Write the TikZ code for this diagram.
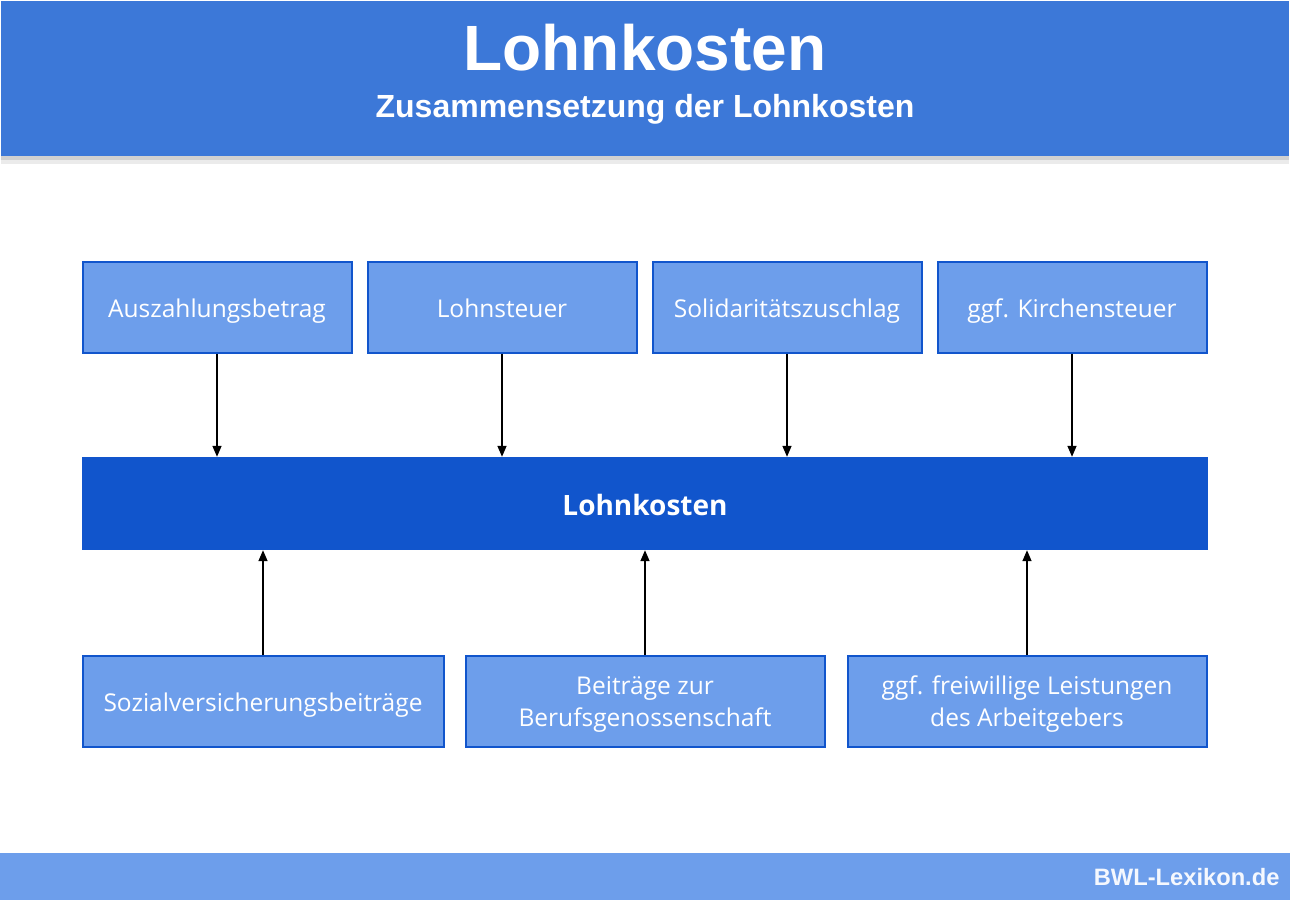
\documentclass[tikz,border=0pt]{standalone}
\usepackage{fontspec}
\setmainfont{Liberation Sans}
\newfontfamily\boxfont{Open Sans}
\usetikzlibrary{arrows.meta}
\definecolor{hdr}{HTML}{3C78D8}
\definecolor{lite}{HTML}{6D9EEB}
\definecolor{dark}{HTML}{1155CC}
\newcommand\twolines[2]{\raisebox{-3pt}[\height][\depth]{\renewcommand\arraystretch{1.03}\begin{tabular}{@{}c@{}}#1\\#2\end{tabular}}}
\begin{document}
\begin{tikzpicture}[x=1pt,y=-1pt,
  item/.style={draw=dark,line width=2pt,fill=lite,text=white,inner sep=0pt,
    font=\boxfont\fontsize{24.5}{31}\selectfont},
  oneline/.style={text height=24pt,text depth=4pt},
  mainbox/.style={fill=dark,text=white,inner sep=0pt,text height=30pt,text depth=6pt,
    font=\boxfont\bfseries\fontsize{28}{32}\selectfont},
  conn/.style={draw=black,line width=1.5pt,-{Triangle[length=11pt,width=9pt]}}]
\useasboundingbox (0,0) rectangle (1290,900);
\fill[white] (0,0) rectangle (1290,900);
% header shadow
\fill[black!18] (1,156) rectangle (1289,160);
\fill[black!8] (1,160) rectangle (1289,164);
\fill[hdr] (1,1) rectangle (1289,156);
\node[text=white,font=\bfseries\fontsize{64}{70}\selectfont] (title) at (645,48) {Lohnkosten};
\node[text=white,font=\bfseries\fontsize{32}{36}\selectfont] (sub) at (645,109) {Zusammensetzung der Lohnkosten};
% footer
\fill[lite] (0,853) rectangle (1290,900);
\node[text=white!93!lite,font=\bfseries\fontsize{23.7}{26}\selectfont,anchor=east] (foot) at (1283,877) {BWL-Lexikon.de};
% top row
\node[item,oneline,minimum width=269pt,minimum height=91pt] (a1) at (217,307) {Auszahlungsbetrag};
\node[item,oneline,minimum width=269pt,minimum height=91pt] (a2) at (502,307) {Lohnsteuer};
\node[item,oneline,minimum width=269pt,minimum height=91pt] (a3) at (787,307) {Solidaritätszuschlag};
\node[item,oneline,minimum width=269pt,minimum height=91pt] (a4) at (1072,307) {ggf. Kirchensteuer};
% main
\node[mainbox,minimum width=1126pt,minimum height=93pt] (main) at (645,503.5) {Lohnkosten};
% bottom row
\node[item,oneline,minimum width=361pt,minimum height=91pt] (b1) at (263,701) {Sozialversicherungsbeiträge};
\node[item,minimum width=359pt,minimum height=91pt] (b2) at (645,701) {\twolines{Beiträge zur}{Berufsgenossenschaft}};
\node[item,minimum width=359pt,minimum height=91pt] (b3) at (1027,701) {\twolines{ggf. freiwillige Leistungen}{des Arbeitgebers}};
% connectors
\draw[conn] (a1.south) -- (a1.south |- main.north);
\draw[conn] (a2.south) -- (a2.south |- main.north);
\draw[conn] (a3.south) -- (a3.south |- main.north);
\draw[conn] (a4.south) -- (a4.south |- main.north);
\draw[conn] (b1.north) -- (b1.north |- main.south);
\draw[conn] (b2.north) -- (b2.north |- main.south);
\draw[conn] (b3.north) -- (b3.north |- main.south);
\end{tikzpicture}
\end{document}
